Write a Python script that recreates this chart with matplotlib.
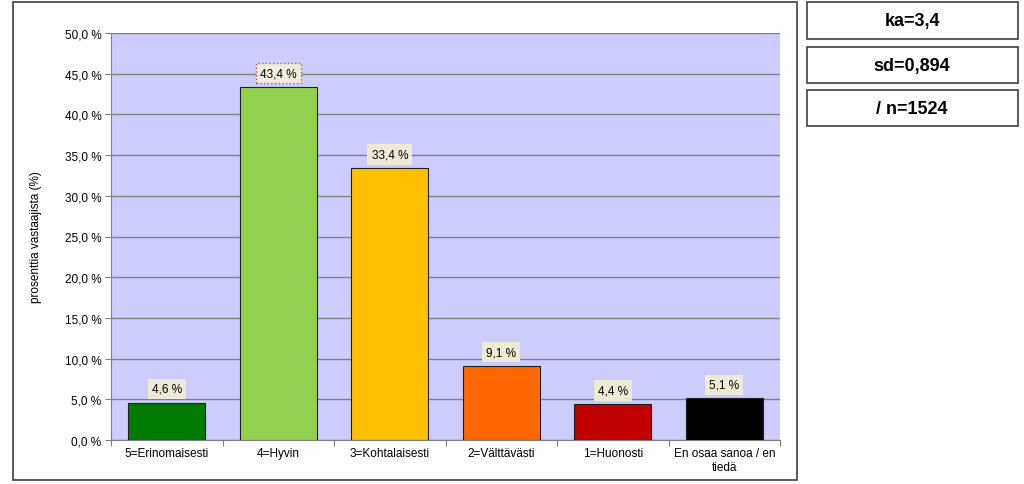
import matplotlib.pyplot as plt
from matplotlib.patches import Rectangle
import numpy as np

# data
categories = ["5=Erinomaisesti", "4=Hyvin", "3=Kohtalaisesti", "2=Välttävästi",
              "1=Huonosti", "En osaa sanoa / en\ntiedä"]
values = [4.6, 43.4, 33.4, 9.1, 4.4, 5.1]
colors = ["#007A00", "#92D050", "#FFC000", "#FF6600", "#C00000", "#000000"]
stats = ["ka=3,4", "sd=0,894", "/ n=1524"]

W, H = 1024, 485
fig = plt.figure(figsize=(W / 100, H / 100), dpi=100)
fig.patch.set_facecolor("white")

def fx(px):
    return px / W

def fy(py):
    return 1 - py / H

# outer chart frame
fig.patches.append(Rectangle((fx(13), fy(481)), fx(797) - fx(13), fy(3) - fy(481),
                             transform=fig.transFigure, fill=False,
                             edgecolor="#404040", linewidth=1.2))

# stat boxes on the right
box_y = [(3, 40), (48, 84), (91, 127)]
for (y0, y1), s in zip(box_y, stats):
    fig.patches.append(Rectangle((fx(807), fy(y1)), fx(1018) - fx(807), fy(y0) - fy(y1),
                                 transform=fig.transFigure, facecolor="white",
                                 edgecolor="#404040", linewidth=1.2))
    fig.text(fx(912), fy((y0 + y1) / 2), s, ha="center", va="center",
             fontsize=13, fontweight="bold", family="Liberation Sans")

ax = fig.add_axes([fx(111), fy(441), fx(780) - fx(111), fy(34) - fy(441)])
ax.set_facecolor("#CCCCFF")

x = np.arange(len(categories))
ax.bar(x, values, width=0.69, color=colors, edgecolor="#202020", linewidth=0.8, zorder=3)

ax.set_xlim(-0.5, len(categories) - 0.5)
ax.set_ylim(0, 50)
yt = np.arange(0, 55, 5)
ax.set_yticks(yt)
ax.set_yticklabels([f"{v:.1f} %".replace(".", ",") for v in yt],
                   fontsize=8.5, family="Liberation Sans")
ax.yaxis.grid(True, color="#808080", linewidth=1, zorder=1)
ax.set_axisbelow(True)

ax.set_xticks(np.arange(-0.5, len(categories), 1), minor=False)
ax.set_xticklabels([])
ax.set_xticks(x, minor=True)
ax.set_xticklabels(categories, minor=True, fontsize=8.5, family="Liberation Sans")
ax.tick_params(axis="x", which="minor", length=0, pad=5)
ax.tick_params(axis="x", which="major", length=4, color="#808080")
ax.tick_params(axis="y", length=4, color="#808080", pad=3)

for side in ["top", "right"]:
    ax.spines[side].set_visible(False)
for side in ["left", "bottom"]:
    ax.spines[side].set_color("#808080")

ax.set_ylabel("prosenttia vastaajista (%)", fontsize=8.5, family="Liberation Sans",
              labelpad=16)

for i, v in enumerate(values):
    lbl = f"{v:.1f} %".replace(".", ",")
    if i == 1:
        bbox = dict(boxstyle="square,pad=0.35", facecolor="#F2EEDD", edgecolor="#D05050",
                    linestyle=":", linewidth=1)
    else:
        bbox = dict(boxstyle="square,pad=0.35", facecolor="#EFEAD5", edgecolor="none")
    ax.annotate(lbl, (x[i], v), xytext=(0, 5.5), textcoords="offset points",
                ha="center", va="bottom", fontsize=8.5, family="Liberation Sans",
                bbox=bbox, zorder=5)

fig.savefig("out.png", dpi=100)
